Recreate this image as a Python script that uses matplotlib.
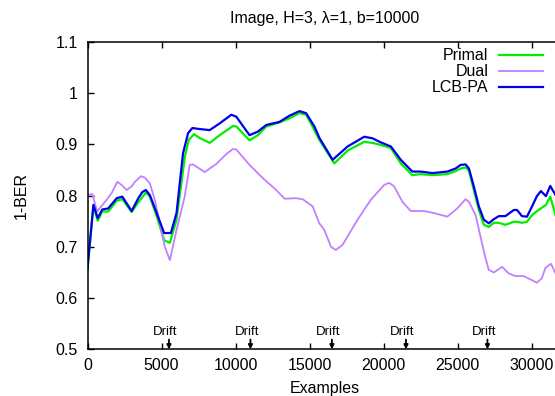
import matplotlib
matplotlib.use("Agg")
import matplotlib.pyplot as plt

plt.rcParams["font.family"] = ["Liberation Sans", "DejaVu Sans"]

# Primal
primal_x = [0, 400, 690, 1000, 1400, 1970, 2350, 2980, 3430, 3940, 4210, 4670, 5170, 5560,
            6010, 6570, 6840, 7190, 7600, 8250, 8920, 9820, 10050, 10940, 11500, 12070,
            12960, 13630, 14310, 14760, 15320, 15650, 16660, 17560, 18680, 19240, 19800,
            20480, 21150, 21930, 22500, 23280, 24290, 24850, 25190, 25520, 25750, 26080,
            26420, 26760, 27090, 27430, 27770, 28210, 28780, 29000, 29330, 29670, 30010,
            30450, 30950, 31240, 31600]
primal_y = [0.658, 0.780, 0.751, 0.769, 0.769, 0.790, 0.793, 0.768, 0.787, 0.806, 0.798,
            0.760, 0.713, 0.708, 0.753, 0.876, 0.909, 0.920, 0.912, 0.903, 0.918, 0.936,
            0.935, 0.908, 0.918, 0.935, 0.943, 0.951, 0.961, 0.958, 0.928, 0.909, 0.863,
            0.888, 0.905, 0.903, 0.899, 0.893, 0.863, 0.840, 0.842, 0.840, 0.842, 0.848,
            0.853, 0.855, 0.849, 0.811, 0.772, 0.743, 0.739, 0.747, 0.747, 0.743, 0.749,
            0.749, 0.747, 0.749, 0.762, 0.772, 0.782, 0.798, 0.762]

# Dual
dual_x = [0, 330, 650, 1180, 1630, 2010, 2300, 2640, 2980, 3200, 3610, 3880, 4210, 4550,
          4900, 5220, 5560, 6010, 6560, 6900, 7120, 7910, 8700, 9400, 9820, 10050, 10940,
          11840, 12740, 13300, 14080, 14530, 15200, 15650, 15990, 16440, 16770, 17220,
          18230, 19130, 20030, 20360, 20700, 21260, 21820, 22720, 23390, 24290, 24960,
          25520, 25750, 26200, 26530, 26870, 27090, 27430, 27990, 28440, 28890, 29450,
          30340, 30680, 30910, 31290, 31600]
dual_y = [0.801, 0.803, 0.769, 0.788, 0.805, 0.827, 0.821, 0.811, 0.818, 0.827, 0.838,
          0.835, 0.824, 0.791, 0.745, 0.700, 0.674, 0.733, 0.798, 0.860, 0.861, 0.846,
          0.862, 0.882, 0.891, 0.890, 0.860, 0.834, 0.811, 0.794, 0.795, 0.793, 0.779,
          0.746, 0.733, 0.700, 0.694, 0.704, 0.753, 0.792, 0.821, 0.825, 0.818, 0.788,
          0.770, 0.770, 0.766, 0.759, 0.775, 0.793, 0.788, 0.762, 0.720, 0.678, 0.655,
          0.650, 0.661, 0.648, 0.643, 0.643, 0.630, 0.639, 0.659, 0.667, 0.648]

# LCB-PA
lcb_x = [0, 400, 690, 1000, 1400, 1970, 2350, 2980, 3430, 3700, 3940, 4210, 4670, 5170,
         5630, 6010, 6450, 6790, 7080, 7580, 8250, 8920, 9710, 10050, 10940, 11500, 12070,
         12960, 13630, 14310, 14760, 15320, 15650, 16550, 17560, 18680, 19240, 19800,
         20480, 21150, 21930, 22500, 23280, 24290, 24850, 25190, 25520, 25750, 26080,
         26420, 26760, 27090, 27430, 27770, 28210, 28780, 29000, 29330, 29670, 30010,
         30340, 30610, 30950, 31240, 31600]
lcb_y = [0.658, 0.782, 0.756, 0.773, 0.775, 0.795, 0.798, 0.770, 0.795, 0.807, 0.811,
         0.801, 0.766, 0.727, 0.727, 0.766, 0.883, 0.922, 0.932, 0.930, 0.928, 0.941,
         0.958, 0.954, 0.918, 0.925, 0.938, 0.944, 0.956, 0.965, 0.961, 0.935, 0.913,
         0.870, 0.896, 0.915, 0.912, 0.904, 0.896, 0.870, 0.847, 0.847, 0.844, 0.847,
         0.853, 0.860, 0.861, 0.853, 0.818, 0.779, 0.753, 0.746, 0.754, 0.760, 0.760,
         0.772, 0.772, 0.760, 0.759, 0.779, 0.799, 0.809, 0.799, 0.819, 0.801]

drift_x = [5500, 11000, 16500, 21500, 27000]

x_ticks = [0, 5000, 10000, 15000, 20000, 25000, 30000]
y_ticks = [0.5, 0.6, 0.7, 0.8, 0.9, 1.0, 1.1]
y_labels = ["0.5", "0.6", "0.7", "0.8", "0.9", "1", "1.1"]

W, H = 555, 396
fig = plt.figure(figsize=(W / 100, H / 100), dpi=100)
# plot area runs past the right edge of the picture, as in the reference
left, right, top, bottom = 87.5, 561.5, 42.0, 349.3
ax = fig.add_axes([left / W, 1 - bottom / H, (right - left) / W, (bottom - top) / H])

ax.plot(primal_x, primal_y, color="#00ee00", lw=1.6, label="Primal")
ax.plot(dual_x, dual_y, color="#c080ff", lw=1.3, label="Dual")
ax.plot(lcb_x, lcb_y, color="#0000ee", lw=1.6, label="LCB-PA")

ax.set_xlim(0, 32000)
ax.set_ylim(0.5, 1.1)
ax.set_xticks(x_ticks)
ax.set_xticklabels([str(t) for t in x_ticks])
ax.set_yticks(y_ticks)
ax.set_yticklabels(y_labels)
ax.tick_params(direction="in", length=4, width=1, top=True, right=True,
               labelsize=11.5, colors="black")
ax.tick_params(axis="x", pad=6)
ax.tick_params(axis="y", pad=7)
for sp in ax.spines.values():
    sp.set_linewidth(1.1)

# drift markers
for dx in drift_x:
    ax.annotate("", xy=(dx, 0.5), xytext=(dx, 0.519),
                arrowprops=dict(arrowstyle="-|>", mutation_scale=6, lw=1.3,
                                color="black", shrinkA=0, shrinkB=0))
    ax.text(dx - 230, 0.533, "Drift", ha="center", va="center", fontsize=9.5)

leg = ax.legend(loc="upper right", bbox_to_anchor=(542.7 / W, 1 - 48.5 / H),
                bbox_transform=fig.transFigure, frameon=False, markerfirst=False,
                fontsize=11.5, handlelength=2.75, handletextpad=0.65,
                labelspacing=0.05, borderpad=0, borderaxespad=0)

fig.text(324.5 / W, 1 - 19 / H, "Image, H=3, λ=1, b=10000", ha="center", va="center",
         fontsize=11.5)
fig.text(21.7 / W, 1 - 195.6 / H, "1-BER", ha="center", va="center", rotation=90,
         fontsize=11.5)
fig.text(325 / W, 1 - 389 / H, "Examples", ha="center", va="center", fontsize=11.5)

fig.savefig("out.png", dpi=100)
